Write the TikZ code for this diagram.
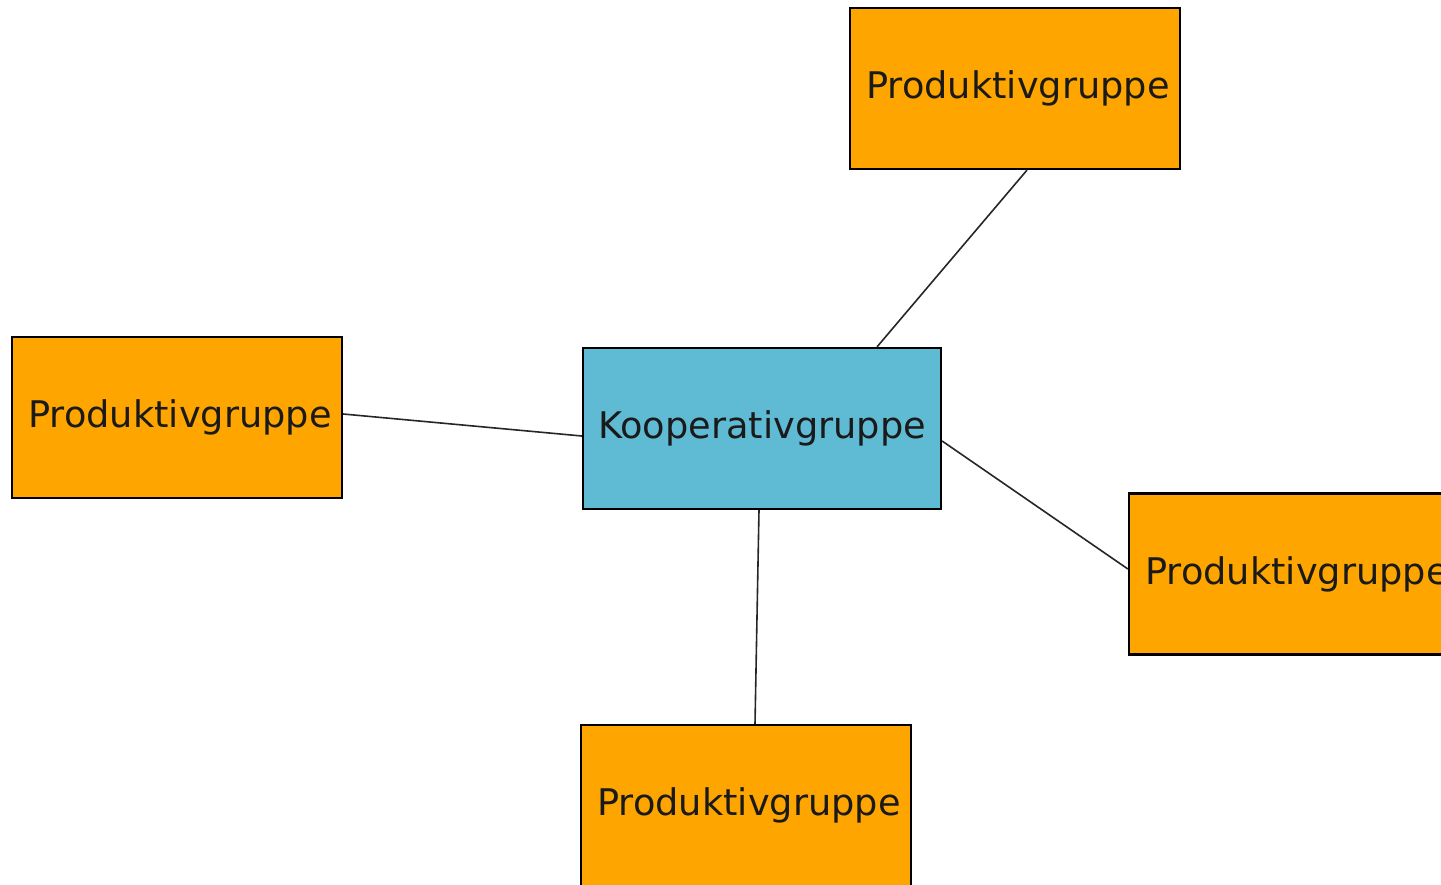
\documentclass[tikz,border=0pt]{standalone}
\usepackage{fontspec}
\setmainfont{DejaVu Sans}
\definecolor{prodorange}{HTML}{FFA500}
\definecolor{koopblue}{HTML}{5FBAD3}
\definecolor{textdark}{HTML}{1A1A1A}
\begin{document}
\begin{tikzpicture}[x=1pt,y=-1pt,
  grp/.style={draw=black, line width=2.2pt, minimum width=330pt, minimum height=161pt,
    inner sep=0pt, text=textdark, font=\fontsize{36.7}{40}\selectfont},
  prod/.style={grp, fill=prodorange, execute at begin node={\hspace*{6pt}}},
  koop/.style={grp, fill=koopblue, minimum width=358pt},
  link/.style={draw=black!85, line width=1.6pt}]
\useasboundingbox (0,0) rectangle (1441,884);
\clip (0,0) rectangle (1441,884);
\node[koop] (k) at (762,428.5) {Kooperativgruppe};
\node[prod] (t) at (1015,88.5) {Produktivgruppe};
\node[prod] (l) at (177,417.5) {Produktivgruppe};
\node[prod] (r) at (1294,574) {Produktivgruppe};
\node[prod] (b) at (746,805.5) {Produktivgruppe};
\draw[link] ([xshift=12pt]t.south) -- ([xshift=115pt]k.north);
\draw[link] ([yshift=3.5pt]l.east) -- ([yshift=-7.5pt]k.west);
\draw[link] ([yshift=-12.5pt]k.east) -- ([yshift=5pt]r.west);
\draw[link] ([xshift=-3pt]k.south) -- ([xshift=9pt]b.north);
\end{tikzpicture}
\end{document}
